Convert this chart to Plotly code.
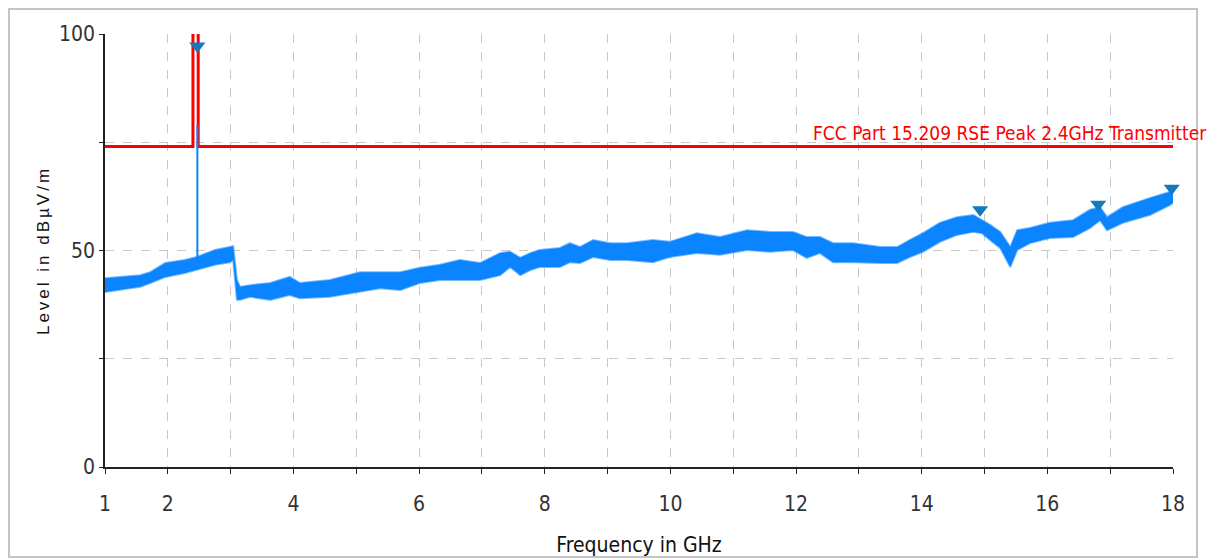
import plotly.graph_objects as go

freq_ghz = [1.00, 1.56, 1.72, 1.96, 2.27, 2.46, 2.75, 2.99, 3.04, 3.10, 3.15, 3.31, 3.63,
            3.94, 4.10, 4.58, 5.06, 5.38, 5.70, 6.01, 6.33, 6.65, 6.97, 7.29, 7.45, 7.61,
            7.77, 7.92, 8.24, 8.40, 8.56, 8.77, 9.04, 9.31, 9.72, 9.99, 10.42, 10.79, 11.22,
            11.59, 11.95, 12.17, 12.38, 12.59, 12.91, 13.34, 13.61, 13.81, 14.02, 14.29,
            14.56, 14.82, 14.96, 15.09, 15.25, 15.41, 15.52, 15.72, 16.04, 16.41, 16.68,
            16.84, 16.95, 17.20, 17.63, 17.95, 18.00]
level_max = [43.6, 44.3, 45.0, 47.1, 47.8, 48.5, 50.1, 50.8, 51.0, 43.2, 41.6, 42.0, 42.5,
             43.9, 42.5, 43.2, 45.0, 45.0, 45.0, 46.0, 46.7, 47.8, 47.1, 49.4, 49.7, 48.3,
             49.4, 50.1, 50.6, 51.7, 50.8, 52.4, 51.7, 51.7, 52.4, 52.0, 54.0, 53.1, 54.7,
             54.3, 54.3, 53.1, 53.1, 51.7, 51.7, 50.8, 50.8, 52.4, 54.0, 56.4,
             57.7, 58.2, 57.0, 55.9, 54.3, 50.8, 54.7, 55.2, 56.4, 57.0, 59.4,
             60.0, 57.7, 60.0, 62.1, 63.5, 64.0]
level_min = [40.4, 41.6, 42.5, 43.9, 44.8, 45.5, 46.7, 47.3, 47.8, 38.6, 38.6, 39.3, 38.6,
             39.7, 39.0, 39.3, 40.4, 41.3, 40.9, 42.5, 43.2, 43.2, 43.2, 44.3, 46.2, 44.3,
             45.5, 46.2, 46.2, 47.3, 47.1, 48.5, 47.8, 47.8, 47.3, 48.5, 49.4, 49.0, 50.1,
             49.7, 50.1, 48.3, 49.4, 47.3, 47.3, 47.1, 47.1, 48.5, 49.7, 52.0,
             53.6, 54.3, 54.0, 52.4, 50.6, 46.2, 50.1, 51.7, 52.9, 53.1, 55.2,
             57.0, 54.7, 56.4, 58.2, 60.5, 61.0]

# Carrier spike in the 2.4 GHz band
spike_freq = [2.47, 2.47]
spike_level = [47.0, 79.0]

# Peak markers
peak_freq = [2.47, 14.93, 16.81, 17.98]
peak_level = [97.2, 59.4, 60.7, 64.4]

# Limit line
limit_freq = [1.0, 2.4, 2.4, 2.4835, 2.4835, 18.0]
limit_level = [74.0, 74.0, 130.0, 130.0, 74.0, 74.0]
limit_name = "FCC Part 15.209 RSE Peak 2.4GHz Transmitter"

x_tickvals = list(range(1, 19))
x_labels = [str(v) if v in (1, 2, 4, 6, 8, 10, 12, 14, 16, 18) else "" for v in x_tickvals]
y_tickvals = [0, 25, 50, 75, 100]
y_labels = ["0", "", "50", "", "100"]

TRACE = "#0a84ff"
NARROW = "DejaVu Sans"


def cond(s):
    return f'<span style="font-stretch:condensed">{s}</span>' if s else ""


fig = go.Figure()
fig.add_trace(go.Scatter(x=limit_freq, y=limit_level, mode="lines",
                         line=dict(color="#ff0000", width=3), name=limit_name,
                         hoverinfo="skip"))
fig.add_trace(go.Scatter(x=freq_ghz, y=level_min, mode="lines",
                         line=dict(color="rgba(10,132,255,0.55)", width=2), name="min"))
fig.add_trace(go.Scatter(x=freq_ghz, y=level_max, mode="lines", fill="tonexty",
                         fillcolor=TRACE, line=dict(color="rgba(10,132,255,0.55)", width=2),
                         name="max"))
fig.add_trace(go.Scatter(x=spike_freq, y=spike_level, mode="lines",
                         line=dict(color=TRACE, width=2), name="spike"))
fig.add_trace(go.Scatter(x=peak_freq, y=peak_level, mode="markers",
                         marker=dict(symbol="triangle-down", size=14, color="#1479bd"),
                         name="peaks", cliponaxis=False))

fig.add_annotation(x=1, xref="paper", y=74, yref="y",
                   text=cond(limit_name),
                   xanchor="right", yanchor="bottom", xshift=36, yshift=1,
                   showarrow=False, font=dict(family=NARROW, size=19, color="#ff0000"))

# outer light border
fig.add_shape(type="rect", xref="paper", yref="paper",
              x0=-0.0899, x1=1.0225, y0=-0.2079, y1=1.0577,
              line=dict(color="#c4c4c4", width=2), layer="below")

axis_common = dict(showgrid=True, gridcolor="#c8c8c8", griddash="dash", gridwidth=1,
                   showline=True, linecolor="#222222", linewidth=1.5, automargin=False,
                   ticks="outside", ticklen=5, tickcolor="#222222", zeroline=False,
                   tickfont=dict(family=NARROW, size=21, color="#333333"))

fig.update_layout(
    width=1210, height=552,
    margin=dict(l=97, r=45, t=26, b=93),
    paper_bgcolor="white", plot_bgcolor="white",
    showlegend=False,
    xaxis=dict(range=[1, 18], tickvals=x_tickvals, ticktext=[cond(s) for s in x_labels],
               ticklabelstandoff=12,
               title=dict(text=cond("Frequency in GHz"), standoff=22,
                          font=dict(family=NARROW, size=21, color="#111111")),
               **axis_common),
    yaxis=dict(range=[0, 100], tickvals=y_tickvals, ticktext=[cond(s) for s in y_labels],
               ticklabelstandoff=0, ticklen=4,
               title=dict(text='<span style="letter-spacing:3px">Level in dBµV/m</span>',
                          standoff=5,
                          font=dict(family="Liberation Sans, Arial, sans-serif", size=17,
                                    color="#111111")),
               **{k: v for k, v in axis_common.items() if k != "ticklen"}),
)

fig.write_html("out.html")
